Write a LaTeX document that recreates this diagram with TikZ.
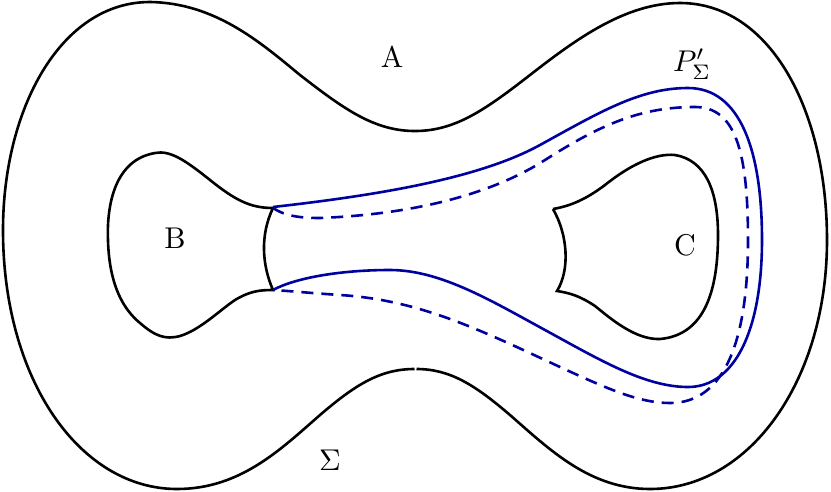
\documentclass[tikz,border=0pt]{standalone}
\definecolor{pblue}{RGB}{0,0,160}
\begin{document}
\begin{tikzpicture}[x=1pt,y=-1pt,
  blk/.style={line width=2.6pt,black},
  bsolid/.style={line width=2.6pt,pblue},
  bdash/.style={line width=2.6pt,pblue,dash pattern=on 12pt off 8pt},
  lbl/.style={scale=3,inner sep=0pt}]
\useasboundingbox (0,0) rectangle (831,491);
% outer surface
\draw[blk] (416.5,369) .. controls (450,369) and (475,385) .. (510,415)
  .. controls (550,450) and (590,489) .. (650,489)
  .. controls (750,489) and (827,380) .. (827,240)
  .. controls (827,110) and (770,3) .. (680,3)
  .. controls (625,3) and (575,40) .. (530,75)
  .. controls (485,110) and (455,131) .. (415,131)
  .. controls (375,131) and (345,110) .. (300,75)
  .. controls (260,42) and (215,3) .. (150,2)
  .. controls (60,2) and (3,110) .. (3,230)
  .. controls (3,380) and (80,489) .. (177,489)
  .. controls (240,489) and (280,450) .. (320,415)
  .. controls (355,385) and (380,369) .. (414.5,369);
% hole B
\draw[blk] (273,208) .. controls (250,208) and (235,200) .. (210,180)
  .. controls (185,160) and (170,150) .. (155,153)
  .. controls (125,158) and (110,185) .. (108,225)
  .. controls (107,260) and (112,300) .. (140,323)
  .. controls (155,336) and (165,340) .. (180,336)
  .. controls (200,330) and (220,310) .. (235,300)
  .. controls (250,291) and (260,290) .. (273,290)
  .. controls (262,265) and (260,235) .. (273,208);
% hole C
\draw[blk] (553,209) .. controls (570,206) and (585,200) .. (605,185)
  .. controls (630,165) and (655,153) .. (675,155)
  .. controls (705,160) and (718,190) .. (718,235)
  .. controls (718,290) and (705,335) .. (660,339)
  .. controls (635,340) and (610,318) .. (595,306)
  .. controls (580,296) and (570,293) .. (557,291)
  .. controls (570,270) and (568,235) .. (553,209);
% blue curves
\draw[bsolid] (273,207) .. controls (380,195) and (480,178) .. (540,145)
  .. controls (600,112) and (640,88) .. (688,88)
  .. controls (740,88) and (762,150) .. (762,240)
  .. controls (762,330) and (735,387) .. (688,387)
  .. controls (645,387) and (600,360) .. (545,330)
  .. controls (490,300) and (440,270) .. (390,270)
  .. controls (340,270) and (295,278) .. (273,290);
\draw[bdash] (273,208) .. controls (285,216) and (300,218) .. (320,218)
  .. controls (420,214) and (495,192) .. (545,160)
  .. controls (600,125) and (640,107) .. (695,107)
  .. controls (735,107) and (748,150) .. (748,240)
  .. controls (748,340) and (725,403) .. (670,403)
  .. controls (640,403) and (610,390) .. (560,367)
  .. controls (480,330) and (420,300) .. (340,295)
  .. controls (310,293) and (290,291) .. (273,290);
% labels
\node[lbl] (A) at (392,57) {A};
\node[lbl] (B) at (175,238) {B};
\node[lbl] (C) at (685,245) {C};
\node[lbl] (P) at (692,64) {$P'_\Sigma$};
\node[lbl] (S) at (330,460) {$\Sigma$};
\end{tikzpicture}
\end{document}
